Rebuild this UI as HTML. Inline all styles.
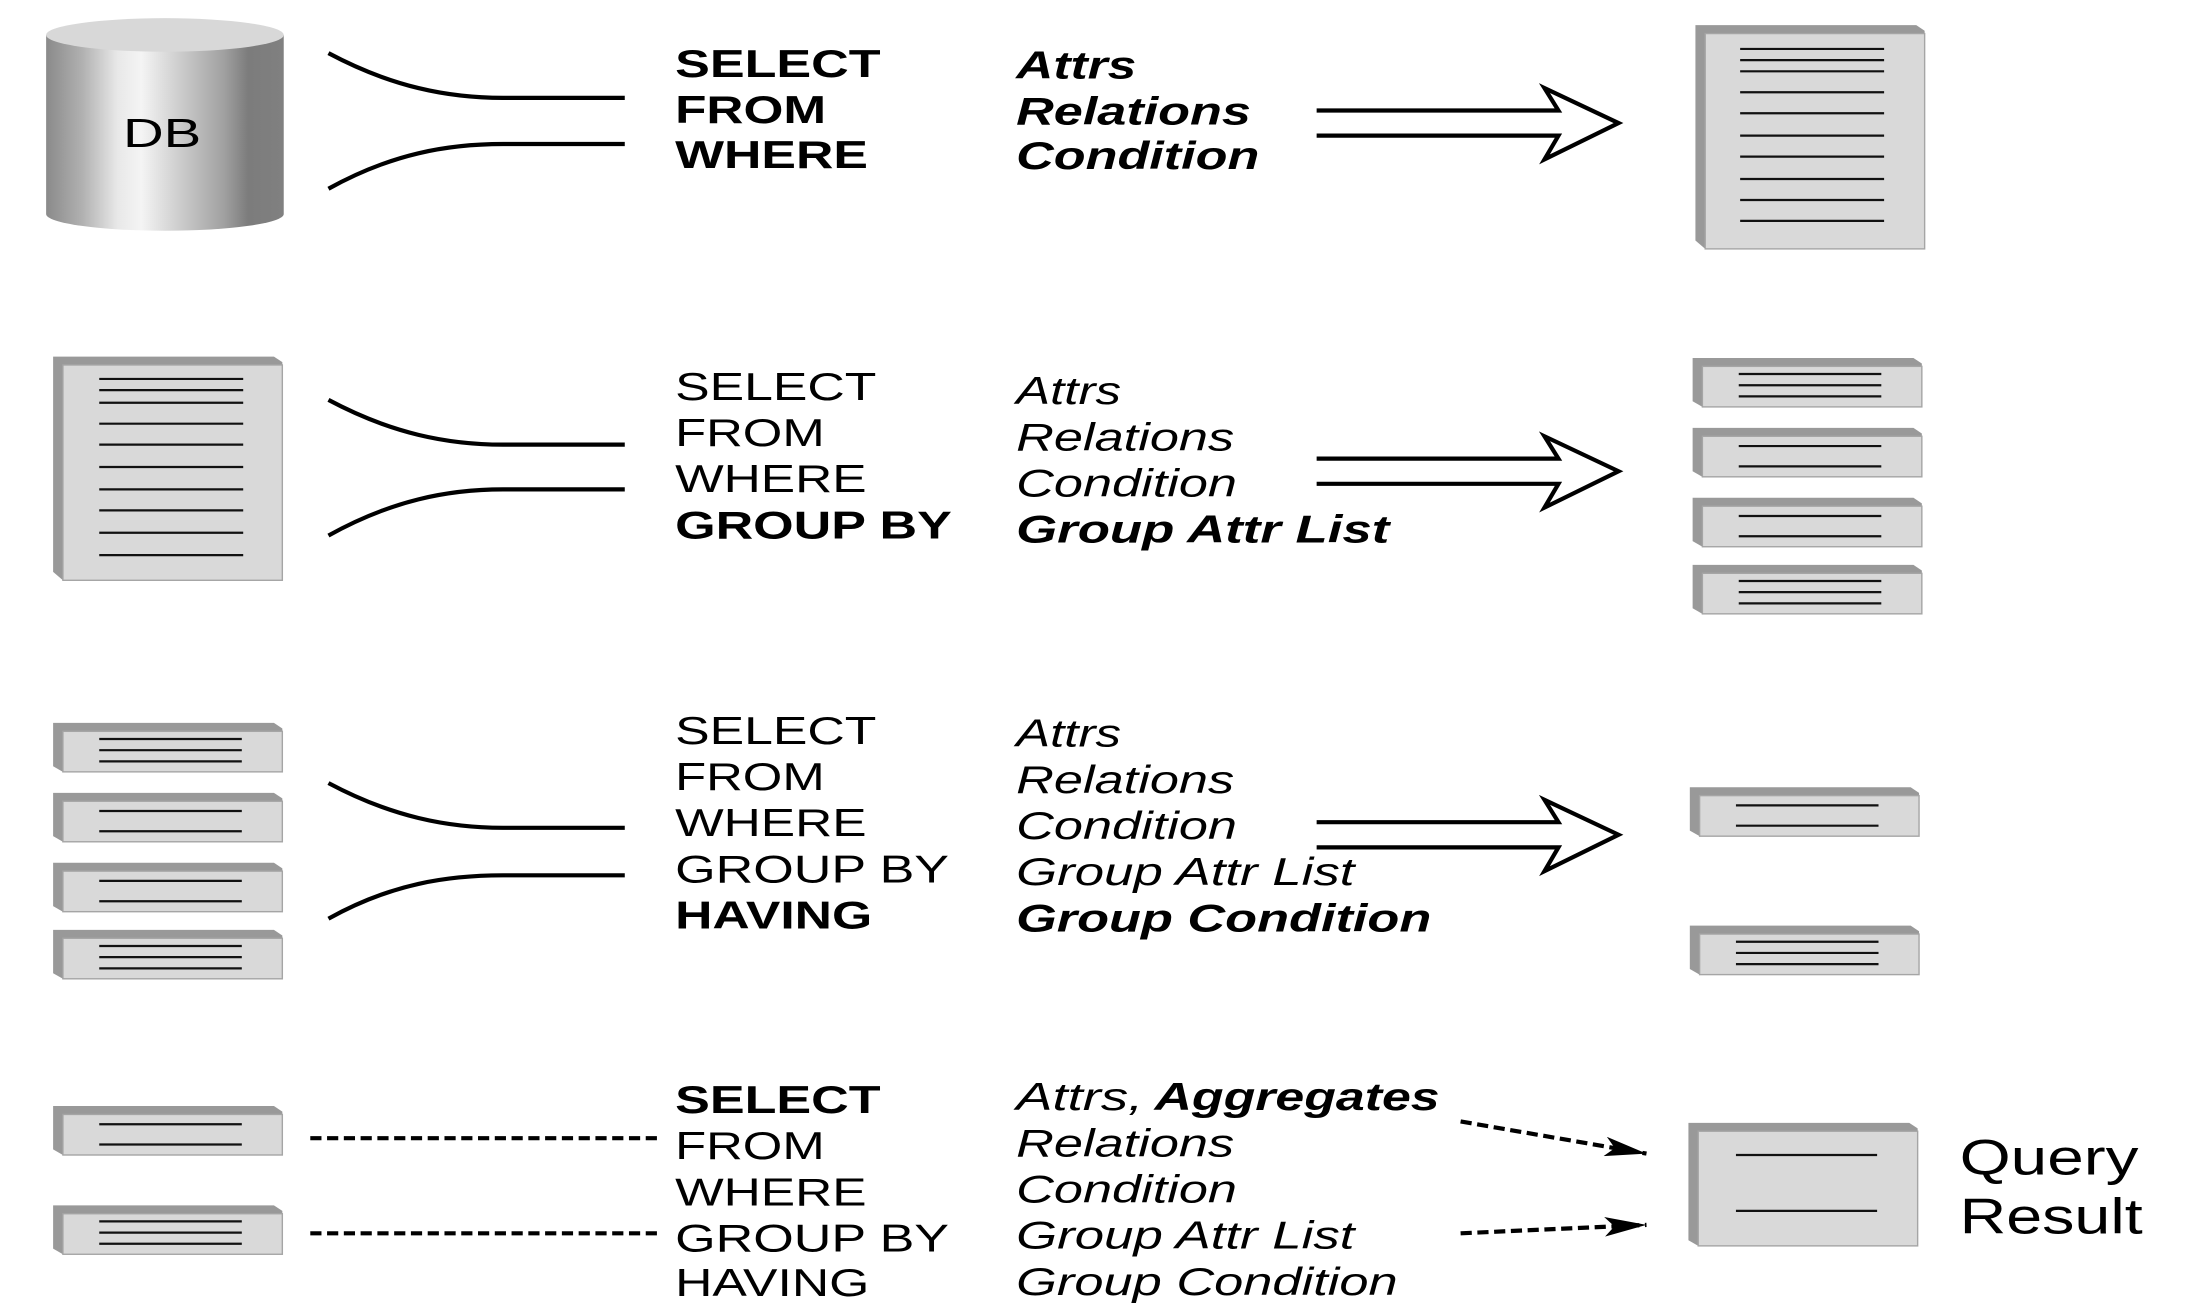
<!DOCTYPE html>
<html><head><meta charset="utf-8"><style>
html,body{margin:0;padding:0;background:#fff;}
svg{display:block;}
text{font-family:"Liberation Sans",Arial,sans-serif;fill:#000;}
.b{font-weight:bold;}
.i{font-style:italic;}
</style></head><body>
<svg width="2193" height="1313" viewBox="0 0 1569 939" preserveAspectRatio="none" xmlns="http://www.w3.org/2000/svg">
<defs>
<linearGradient id="cyl" x1="0" x2="1" y1="0" y2="0">
<stop offset="0" stop-color="#8a8a8a"/>
<stop offset="0.15" stop-color="#b0b0b0"/>
<stop offset="0.3" stop-color="#e8e8e8"/>
<stop offset="0.4" stop-color="#f4f4f4"/>
<stop offset="0.55" stop-color="#d0d0d0"/>
<stop offset="0.75" stop-color="#a0a0a0"/>
<stop offset="0.85" stop-color="#7c7c7c"/>
<stop offset="1" stop-color="#808080"/>
</linearGradient>
<g id="sbox">
<polygon points="0,0 158,0 164,4 164,35 7,35 0,31" fill="#999"/>
<rect x="7" y="6" width="157" height="29" fill="#d9d9d9" stroke="#a5a5a5" stroke-width="1"/>
</g>
<g id="d3"><use href="#sbox"/><g stroke="#111" stroke-width="1.6"><line x1="33" y1="11.5" x2="135" y2="11.5"/><line x1="33" y1="19.5" x2="135" y2="19.5"/><line x1="33" y1="27.5" x2="135" y2="27.5"/></g></g>
<g id="d2"><use href="#sbox"/><g stroke="#111" stroke-width="1.6"><line x1="33" y1="13" x2="135" y2="13"/><line x1="33" y1="27.5" x2="135" y2="27.5"/></g></g>
<g id="big">
<polygon points="0,0 158,0 164,4 164,160 7,160 0,154" fill="#999"/>
<rect x="7" y="6" width="157" height="154" fill="#d9d9d9" stroke="#a5a5a5" stroke-width="1"/>
</g>
<marker id="ah" viewBox="0 0 30 14" refX="30" refY="7" markerWidth="30" markerHeight="14" markerUnits="userSpaceOnUse" orient="auto"><polygon points="0,0 30,7 0,14 7,7" fill="#000"/></marker>
</defs>

<path d="M33,25 L33,153 A85,12 0 0 0 203,153 L203,25 Z" fill="url(#cyl)"/>
<ellipse cx="118" cy="25" rx="85" ry="12" fill="#d8d8d8"/>
<text x="88" y="105" font-size="29" textLength="56" lengthAdjust="spacingAndGlyphs">DB</text>
<g fill="none" stroke="#000" stroke-width="3">
<path d="M235,38 C280,62 320,70 360,70 L447,70"/>
<path d="M235,135 C280,110 320,103 360,103 L447,103"/>
<path d="M235,286 C280,310 320,318 360,318 L447,318"/>
<path d="M235,383 C280,358 320,350 360,350 L447,350"/>
<path d="M235,560 C280,584 320,592 360,592 L447,592"/>
<path d="M235,657 C280,632 320,626 360,626 L447,626"/>
<path d="M942,79 L1115,79 L1105,63 L1158,88 L1105,114 L1115,97 L942,97"/>
<path d="M942,328 L1115,328 L1105,312 L1158,337 L1105,363 L1115,346 L942,346"/>
<path d="M942,588 L1115,588 L1105,572 L1158,597 L1105,623 L1115,606 L942,606"/>
</g>
<g font-size="28">
<text class="b" x="483" y="55" textLength="147" lengthAdjust="spacingAndGlyphs">SELECT</text>
<text class="b" x="483" y="88" textLength="108" lengthAdjust="spacingAndGlyphs">FROM</text>
<text class="b" x="483" y="120" textLength="138" lengthAdjust="spacingAndGlyphs">WHERE</text>
<text class="b i" x="727" y="56" textLength="86" lengthAdjust="spacingAndGlyphs">Attrs</text>
<text class="b i" x="727" y="89" textLength="168" lengthAdjust="spacingAndGlyphs">Relations</text>
<text class="b i" x="727" y="121" textLength="174" lengthAdjust="spacingAndGlyphs">Condition</text>

<text x="483" y="286" textLength="144" lengthAdjust="spacingAndGlyphs">SELECT</text>
<text x="483" y="319" textLength="107" lengthAdjust="spacingAndGlyphs">FROM</text>
<text x="483" y="352" textLength="137" lengthAdjust="spacingAndGlyphs">WHERE</text>
<text class="b" x="483" y="385" textLength="198" lengthAdjust="spacingAndGlyphs">GROUP BY</text>
<text class="i" x="727" y="289" textLength="75" lengthAdjust="spacingAndGlyphs">Attrs</text>
<text class="i" x="727" y="322" textLength="156" lengthAdjust="spacingAndGlyphs">Relations</text>
<text class="i" x="727" y="355" textLength="158" lengthAdjust="spacingAndGlyphs">Condition</text>
<text class="b i" x="727" y="388" textLength="267" lengthAdjust="spacingAndGlyphs">Group Attr List</text>

<text x="483" y="532" textLength="144" lengthAdjust="spacingAndGlyphs">SELECT</text>
<text x="483" y="565" textLength="107" lengthAdjust="spacingAndGlyphs">FROM</text>
<text x="483" y="598" textLength="137" lengthAdjust="spacingAndGlyphs">WHERE</text>
<text x="483" y="631" textLength="196" lengthAdjust="spacingAndGlyphs">GROUP BY</text>
<text class="b" x="483" y="664" textLength="141" lengthAdjust="spacingAndGlyphs">HAVING</text>
<text class="i" x="727" y="534" textLength="75" lengthAdjust="spacingAndGlyphs">Attrs</text>
<text class="i" x="727" y="567" textLength="156" lengthAdjust="spacingAndGlyphs">Relations</text>
<text class="i" x="727" y="600" textLength="158" lengthAdjust="spacingAndGlyphs">Condition</text>
<text class="i" x="727" y="633" textLength="242" lengthAdjust="spacingAndGlyphs">Group Attr List</text>
<text class="b i" x="727" y="666" textLength="297" lengthAdjust="spacingAndGlyphs">Group Condition</text>

<text class="b" x="483" y="796" textLength="147" lengthAdjust="spacingAndGlyphs">SELECT</text>
<text x="483" y="829" textLength="107" lengthAdjust="spacingAndGlyphs">FROM</text>
<text x="483" y="862" textLength="137" lengthAdjust="spacingAndGlyphs">WHERE</text>
<text x="483" y="895" textLength="196" lengthAdjust="spacingAndGlyphs">GROUP BY</text>
<text x="483" y="927" textLength="139" lengthAdjust="spacingAndGlyphs">HAVING</text>
<text class="i" x="727" y="794" textLength="91" lengthAdjust="spacingAndGlyphs">Attrs,</text>
<text class="b i" x="826" y="794" textLength="204" lengthAdjust="spacingAndGlyphs">Aggregates</text>
<text class="i" x="727" y="827" textLength="156" lengthAdjust="spacingAndGlyphs">Relations</text>
<text class="i" x="727" y="860" textLength="158" lengthAdjust="spacingAndGlyphs">Condition</text>
<text class="i" x="727" y="893" textLength="242" lengthAdjust="spacingAndGlyphs">Group Attr List</text>
<text class="i" x="727" y="926" textLength="273" lengthAdjust="spacingAndGlyphs">Group Condition</text>
</g>
<text x="1402" y="840" font-size="36" textLength="128" lengthAdjust="spacingAndGlyphs">Query</text>
<text x="1402" y="882" font-size="36" textLength="131" lengthAdjust="spacingAndGlyphs">Result</text>

<use href="#big" x="1213" y="18"/>
<g stroke="#111" stroke-width="1.6">
<line x1="1245" y1="35" x2="1348" y2="35"/><line x1="1245" y1="43" x2="1348" y2="43"/><line x1="1245" y1="51" x2="1348" y2="51"/>
<line x1="1245" y1="66" x2="1348" y2="66"/><line x1="1245" y1="81" x2="1348" y2="81"/><line x1="1245" y1="97" x2="1348" y2="97"/>
<line x1="1245" y1="112" x2="1348" y2="112"/><line x1="1245" y1="128" x2="1348" y2="128"/><line x1="1245" y1="143" x2="1348" y2="143"/><line x1="1245" y1="158" x2="1348" y2="158"/>
</g>
<use href="#big" x="38" y="255"/>
<g stroke="#111" stroke-width="1.6">
<line x1="71" y1="271" x2="174" y2="271"/><line x1="71" y1="279" x2="174" y2="279"/><line x1="71" y1="288" x2="174" y2="288"/>
<line x1="71" y1="303" x2="174" y2="303"/><line x1="71" y1="318" x2="174" y2="318"/><line x1="71" y1="334" x2="174" y2="334"/>
<line x1="71" y1="350" x2="174" y2="350"/><line x1="71" y1="365" x2="174" y2="365"/><line x1="71" y1="381" x2="174" y2="381"/><line x1="71" y1="397" x2="174" y2="397"/>
</g>

<use href="#d3" x="1211" y="256"/>
<use href="#d2" x="1211" y="306"/>
<use href="#d2" x="1211" y="356"/>
<use href="#d3" x="1211" y="404"/>

<use href="#d3" x="38" y="517"/>
<use href="#d2" x="38" y="567"/>
<use href="#d2" x="38" y="617"/>
<use href="#d3" x="38" y="665"/>

<use href="#d2" x="1209" y="563"/>
<use href="#d3" x="1209" y="662"/>

<use href="#d2" x="38" y="791"/>
<use href="#d3" x="38" y="862"/>

<polygon points="1208,803 1366,803 1372,807 1372,891 1215,891 1208,887" fill="#999"/>
<rect x="1215" y="809" width="157" height="82" fill="#d9d9d9" stroke="#a5a5a5"/>
<g stroke="#111" stroke-width="1.6"><line x1="1242" y1="826" x2="1343" y2="826"/><line x1="1242" y1="866" x2="1343" y2="866"/></g>

<g stroke="#000" stroke-width="3" stroke-dasharray="8,4" fill="none">
<line x1="222" y1="814" x2="470" y2="814"/>
<line x1="222" y1="882" x2="470" y2="882"/>
<line x1="1045" y1="802" x2="1178" y2="825" marker-end="url(#ah)"/>
<line x1="1045" y1="882" x2="1178" y2="876" marker-end="url(#ah)"/>
</g>
</svg>
</body></html>
